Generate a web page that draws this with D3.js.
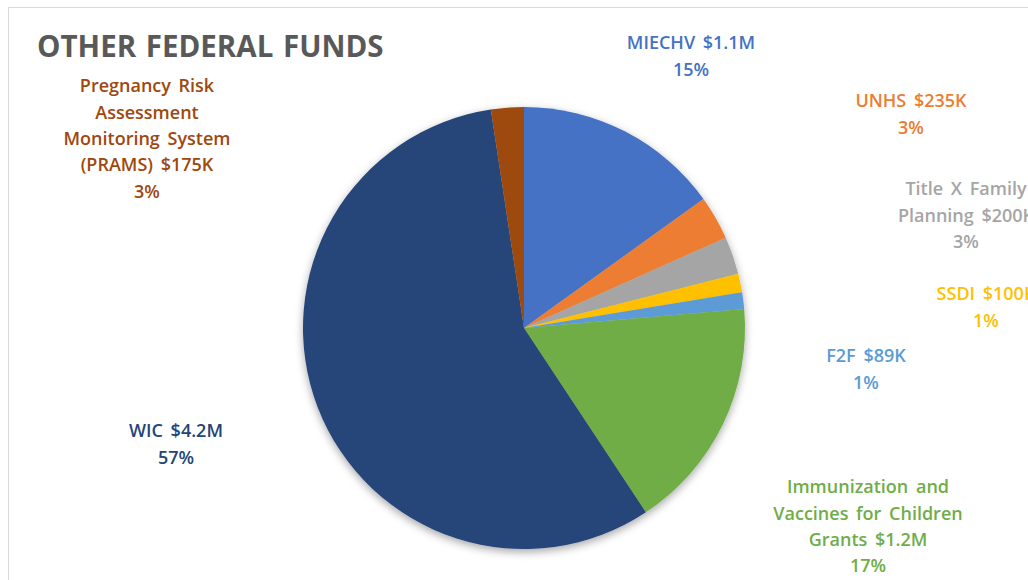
<!DOCTYPE html>
<html>
<head>
<meta charset="utf-8">
<script src="https://cdn.jsdelivr.net/npm/d3@7"></script>
<style>
  html, body { margin: 0; padding: 0; background: #ffffff; }
  svg { display: block; }
  text { font-family: "Open Sans", Lato, sans-serif; }
</style>
</head>
<body>
<svg id="chart" width="1028" height="580"></svg>
<script>
// Other federal funds, in thousands of dollars
const sources = ["MIECHV", "UNHS", "Title X Family Planning", "SSDI", "F2F",
  "Immunization and Vaccines for Children Grants", "WIC",
  "Pregnancy Risk Assessment Monitoring System (PRAMS)"];
const amounts = [1100, 235, 200, 100, 89, 1245, 4150, 175];
const colors = ["#4472C4", "#ED7D31", "#A5A5A5", "#FFC000", "#5B9BD5", "#70AD47", "#264478", "#9E480E"];
const labelLines = [
  ["MIECHV $1.1M", "15%"],
  ["UNHS $235K", "3%"],
  ["Title X Family", "Planning $200K", "3%"],
  ["SSDI $100K", "1%"],
  ["F2F $89K", "1%"],
  ["Immunization and", "Vaccines for Children", "Grants $1.2M", "17%"],
  ["WIC $4.2M", "57%"],
  ["Pregnancy Risk", "Assessment", "Monitoring System", "(PRAMS) $175K", "3%"]
];
// label block anchors: centre x, first line middle y
const labelAnchors = [[691, 43], [911, 101], [966, 189], [986, 294], [866, 356], [868, 487], [176, 431], [147, 86]];

const svg = d3.select("#chart");
const cx = 524, cy = 328, r = 221;
const lineStep = 26.3;

// chart frame
svg.append("rect")
  .attr("x", 8.5).attr("y", 7.5).attr("width", 1040).attr("height", 600)
  .attr("fill", "#ffffff").attr("stroke", "#d9d9d9").attr("stroke-width", 1);

// title
svg.append("text")
  .attr("x", 37).attr("y", 57)
  .attr("font-size", 29.5).attr("font-weight", 700)
  .attr("fill", "#595959")
  .attr("word-spacing", 2)
  .text("OTHER FEDERAL FUNDS");

// soft shadow under the pie
const defs = svg.append("defs");
const f = defs.append("filter").attr("id", "shadow")
  .attr("x", "-20%").attr("y", "-20%").attr("width", "140%").attr("height", "140%");
f.append("feDropShadow").attr("dx", 0).attr("dy", 3).attr("stdDeviation", 4)
  .attr("flood-color", "#000").attr("flood-opacity", 0.35);

const pie = d3.pie().sort(null).value(d => d);
const arc = d3.arc().innerRadius(0).outerRadius(r);
const arcs = pie(amounts);

const g = svg.append("g").attr("transform", `translate(${cx},${cy})`).attr("filter", "url(#shadow)");
g.selectAll("path")
  .data(arcs)
  .join("path")
  .attr("d", arc)
  .attr("fill", (d, i) => colors[i]);

// data labels
const labels = svg.append("g");
labelLines.forEach((lines, i) => {
  const t = labels.append("text")
    .attr("text-anchor", "middle")
    .attr("font-size", 18).attr("font-weight", 600)
    .attr("word-spacing", 3)
    .attr("fill", colors[i]);
  lines.forEach((ln, j) => {
    t.append("tspan")
      .attr("x", labelAnchors[i][0])
      .attr("y", labelAnchors[i][1] + j * lineStep)
      .attr("dy", "0.35em")
      .text(ln);
  });
});
</script>
</body>
</html>
